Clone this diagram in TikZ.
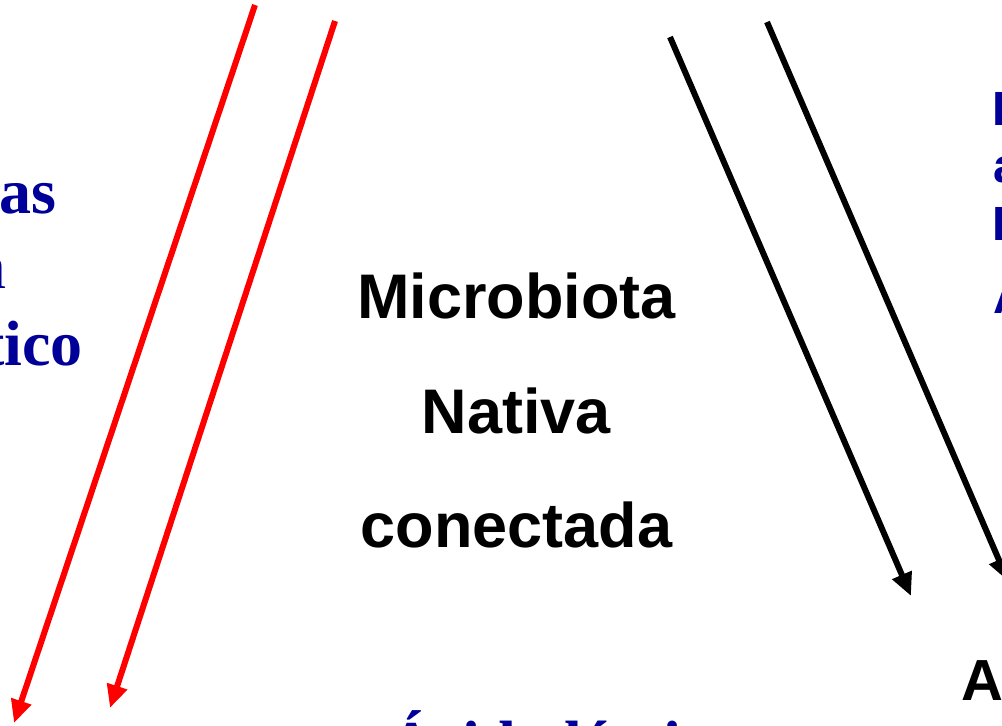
\documentclass[tikz,border=0pt]{standalone}
\usepackage{fontspec}
\setmainfont{Liberation Serif}
\newfontfamily\arialf{Liberation Sans}
\usetikzlibrary{arrows.meta}
\definecolor{dblue}{RGB}{0,0,153}
\definecolor{pred}{RGB}{255,0,0}
\tikzset{
  redarrow/.style={draw=pred, line width=6pt, -{Triangle[length=23pt,width=20pt]}},
  blackarrow/.style={draw=black, line width=6pt, -{Triangle[length=23pt,width=20pt]}},
  centertext/.style={inner sep=0pt, anchor=base, font=\arialf\bfseries\fontsize{63}{63}\selectfont},
  sidetext/.style={inner sep=0pt, text=dblue, font=\arialf\bfseries\fontsize{48}{48}\selectfont, anchor=base west},
  serifbold/.style={inner sep=0pt, text=dblue, font=\bfseries\fontsize{64}{64}\selectfont},
  serifreg/.style={inner sep=0pt, text=dblue, font=\fontsize{64}{64}\selectfont}
}
\begin{document}
\begin{tikzpicture}[x=1pt,y=-1pt]
\useasboundingbox (0,0) rectangle (1002,726);
\clip (0,0) rectangle (1002,726);
\fill[white] (0,0) rectangle (1002,726);

% centre text
\node[centertext] (m1) at (516.5,318) {Microbiota};
\node[centertext] (m2) at (516.5,433) {Nativa};
\node[centertext] (m3) at (516.5,547) {conectada};

% left text (clipped)
\node[serifbold, anchor=base east] (l1) at (57,213) {Bacterias probióticas};
\node[serifreg, anchor=base east] (l2) at (7,288) {en};
\node[serifbold, anchor=base east] (l3) at (83,365) {producto probiótico};

% right text (clipped)
\node[sidetext] (r1) at (992,125) {Lactobacillus};
\node[sidetext] (r2) at (993,182) {acidophilus};
\node[sidetext] (r3) at (992,240) {Bifidobacterium};
\node[sidetext] (r4) at (993,313) {Activo};

% bottom texts (clipped)
\node[serifbold, anchor=base west] (b1) at (388,765) {Ácido láctico};
\node[inner sep=0pt, anchor=base west, font=\arialf\bfseries\fontsize{58}{58}\selectfont] (b2) at (961,700) {Acción};

% arrows
\coordinate (ra1s) at (255,5);
\coordinate (ra1e) at (14,723);
\coordinate (ra2s) at (335,21);
\coordinate (ra2e) at (110,708);
\coordinate (ba1s) at (670,37);
\coordinate (ba1e) at (911,596);
\coordinate (ba2s) at (767,22);
\coordinate (ba2e) at (1008,581);
\draw[redarrow] (ra1s) -- (ra1e);
\draw[redarrow] (ra2s) -- (ra2e);
\draw[blackarrow] (ba1s) -- (ba1e);
\draw[blackarrow] (ba2s) -- (ba2e);
\end{tikzpicture}
\end{document}
